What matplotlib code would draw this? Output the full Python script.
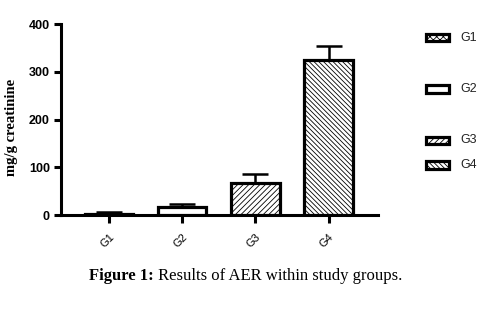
import matplotlib
matplotlib.use("Agg")
import matplotlib.pyplot as plt
from matplotlib.patches import Rectangle

# -------------------------------------------------
# Data
# -------------------------------------------------
groups = ["G1", "G2", "G3", "G4"]
aer_mean = [3, 16, 67, 325]
aer_err = [4, 7, 20, 29]
hatches = ["xxxxx", "", "//////", "\\\\\\\\\\\\\\"]

# -------------------------------------------------
# Figure
# -------------------------------------------------
plt.rcParams.update({
    "font.family": "Liberation Sans",
    "hatch.linewidth": 0.6,
})

fig = plt.figure(figsize=(4.99, 3.09), dpi=100)
ax = fig.add_axes([0.122, 0.304, 0.636, 0.618])

x = list(range(len(groups)))
ax.bar(
    x,
    aer_mean,
    width=0.66,
    color="white",
    edgecolor="black",
    linewidth=2.3,
    hatch=hatches,
    yerr=[[0] * len(groups), aer_err],
    error_kw=dict(ecolor="black", elinewidth=1.8, capsize=9.5, capthick=1.8),
    zorder=3,
)

ax.set_xlim(-0.66, 3.68)
ax.set_ylim(0, 400)
ax.set_yticks([0, 100, 200, 300, 400])
ax.set_xticks(x)
ax.set_xticklabels(groups, rotation=45, ha="right", rotation_mode="anchor", fontsize=8)

for lbl in ax.get_yticklabels():
    lbl.set_fontweight("bold")
    lbl.set_fontsize(9)

ax.tick_params(axis="both", direction="out", length=5, width=2.2, pad=3)
ax.tick_params(axis="x", length=6, pad=6)

for side in ["top", "right"]:
    ax.spines[side].set_visible(False)
for side in ["left", "bottom"]:
    ax.spines[side].set_linewidth(2.2)

ax.set_ylabel("mg/g creatinine", family="Liberation Serif", fontweight="bold",
              fontsize=10.5)
ax.yaxis.set_label_coords(-0.135, 0.46)

# -------------------------------------------------
# legenda (spaziatura irregolare come nell'originale)
# -------------------------------------------------
legend_y = [0.878, 0.712, 0.546, 0.466]
for name, h, ly in zip(groups, hatches, legend_y):
    fig.add_artist(Rectangle((0.853, ly - 0.012), 0.046, 0.024, transform=fig.transFigure,
                             facecolor="white", edgecolor="black", linewidth=2.3, hatch=h))
    fig.text(0.923, ly, name, fontsize=9, va="center", ha="left", color="#222222")

# -------------------------------------------------
# Caption
# -------------------------------------------------
fig.canvas.draw()
renderer = fig.canvas.get_renderer()
cap_y = 0.107
t1 = fig.text(0, cap_y, "Figure 1:", family="Liberation Serif", fontweight="bold",
              fontsize=12, va="center", ha="left")
t2 = fig.text(0, cap_y, " Results of AER within study groups.", family="Liberation Serif",
              fontsize=12, va="center", ha="left")
w1 = t1.get_window_extent(renderer).width / fig.bbox.width
w2 = t2.get_window_extent(renderer).width / fig.bbox.width
x0 = 0.493 - (w1 + w2) / 2
t1.set_x(x0)
t2.set_x(x0 + w1)

fig.savefig("out.png", dpi=100)
